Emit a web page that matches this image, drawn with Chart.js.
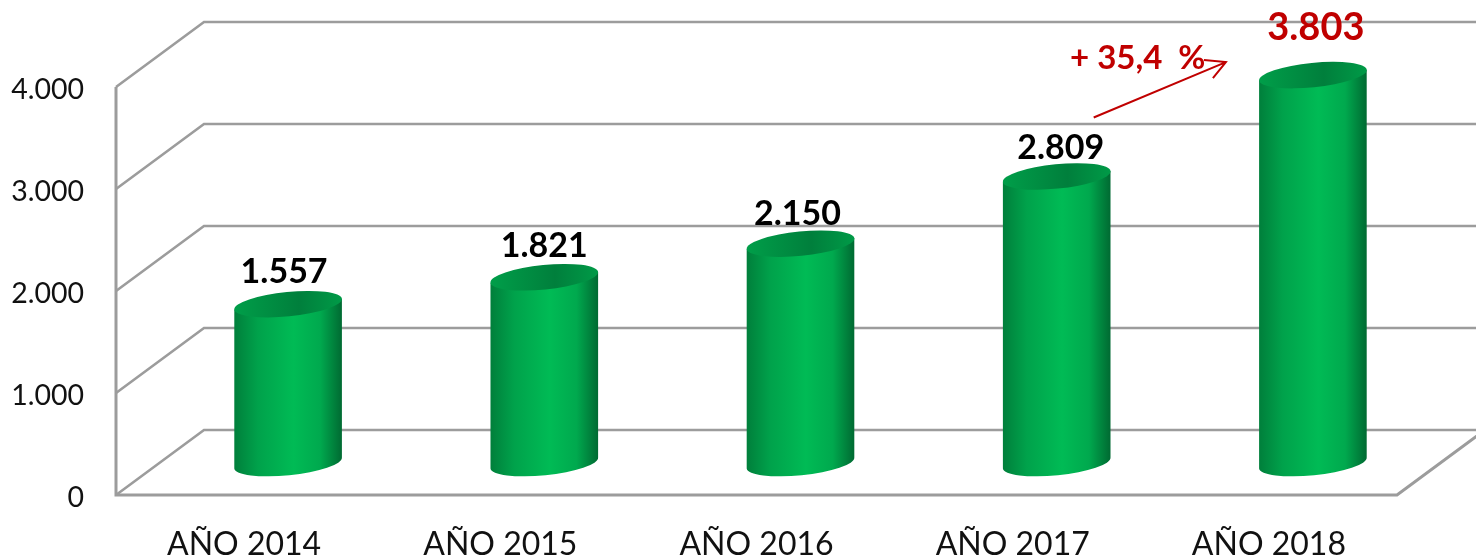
<!DOCTYPE html>
<html>
<head>
<meta charset="utf-8">
<style>html,body{margin:0;padding:0;background:#fff}#w{width:1476px;height:558px;position:relative}</style>
<script src="https://cdn.jsdelivr.net/npm/chart.js@4"></script>
</head>
<body>
<div id="w"><canvas id="c" width="1476" height="558"></canvas></div>
<script>
const categories = ['AÑO 2014','AÑO 2015','AÑO 2016','AÑO 2017','AÑO 2018'];
const values = [1557, 1821, 2150, 2809, 3803];
const valueLabels = ['1.557','1.821','2.150','2.809','3.803'];
const yTicks = [0, 1000, 2000, 3000, 4000];
const yTickLabels = ['0','1.000','2.000','3.000','4.000'];
const changeLabel = '+ 35,4  %';

const DEPTH = {x: 88, y: 65};      // floor depth of the 3D box
const OFFSET = {x: 44, y: -32};    // bars stand mid-way along the floor
const GRID = '#9c9c9c';
const FONT = 'Lato, Carlito, sans-serif';
const RX_TILT = -0.1;

function hGrad(ctx, x0, x1, stops){
  const g = ctx.createLinearGradient(x0, 0, x1, 0);
  stops.forEach(s => g.addColorStop(s[0], s[1]));
  return g;
}

class CylinderElement extends Chart.BarElement {
  draw(ctx){
    const p = this.getProps(['x','y','base','width']);
    const cx = p.x + OFFSET.x, rx = p.width / 2, ry = 12.2;
    const top = p.y + OFFSET.y, bot = p.base + OFFSET.y;
    const dy = Math.tan(-RX_TILT) * rx;
    const l = cx - rx, r = cx + rx;
    ctx.save();
    ctx.beginPath();
    ctx.moveTo(l, top + dy);
    ctx.lineTo(l, bot + dy);
    ctx.ellipse(cx, bot, rx / Math.cos(RX_TILT), ry, RX_TILT, Math.PI, 0, true);
    ctx.lineTo(r, top - dy);
    ctx.closePath();
    ctx.fillStyle = hGrad(ctx, l, r, [[0,'#007f3b'],[0.22,'#00a24b'],[0.55,'#00bb55'],[0.8,'#00a94e'],[1,'#006a32']]);
    ctx.fill();
    ctx.beginPath();
    ctx.ellipse(cx, top, rx / Math.cos(RX_TILT), ry, RX_TILT, 0, Math.PI * 2);
    ctx.fillStyle = hGrad(ctx, l, r, [[0,'#009e49'],[0.6,'#007f3c'],[1,'#009a47']]);
    ctx.fill();
    ctx.restore();
  }
}
CylinderElement.id = 'cylinder';
CylinderElement.defaults = Chart.BarElement.defaults;

class CylinderController extends Chart.BarController {}
CylinderController.id = 'cylinderBar';
CylinderController.defaults = {dataElementType: 'cylinder'};
Chart.register(CylinderElement, CylinderController);

const box3d = {
  id: 'box3d',
  beforeDatasetsDraw(chart){
    const {ctx, scales:{y}, chartArea:a} = chart;
    ctx.save();
    ctx.strokeStyle = GRID;
    ctx.lineWidth = 2.6;
    ctx.lineJoin = 'miter';
    yTicks.forEach(v => {
      const py = y.getPixelForValue(v);
      ctx.beginPath();
      ctx.moveTo(a.left, py);
      ctx.lineTo(a.left + DEPTH.x, py - DEPTH.y);
      ctx.lineTo(1480, py - DEPTH.y);
      ctx.stroke();
    });
    const y0 = y.getPixelForValue(0), y4 = y.getPixelForValue(4000);
    ctx.lineWidth = 3;
    ctx.beginPath();
    ctx.moveTo(a.left, y4);
    ctx.lineTo(a.left, y0);
    ctx.lineTo(a.right, y0);
    ctx.lineTo(a.right + DEPTH.x, y0 - DEPTH.y);
    ctx.stroke();
    ctx.restore();
  },
  afterDatasetsDraw(chart){
    const {ctx} = chart;
    const bars = chart.getDatasetMeta(0).data;
    const shift = [[-4,-32],[0,-31],[-3,-30],[4,-28],[3,-47]];
    ctx.save();
    ctx.textAlign = 'center';
    ctx.textBaseline = 'middle';
    bars.forEach((b, i) => {
      const last = i === bars.length - 1;
      ctx.font = (last ? '700 38px ' : '700 34px ') + FONT;
      ctx.fillStyle = last ? '#c00000' : '#000';
      ctx.fillText(valueLabels[i], b.x + OFFSET.x + shift[i][0], b.y + OFFSET.y + shift[i][1]);
    });
    const a = bars[3], c = bars[4];
    const ax = a.x + OFFSET.x + 37, ay = a.y + OFFSET.y - 59;
    const bx = c.x + OFFSET.x - 87, by = c.y + OFFSET.y - 13;
    ctx.strokeStyle = '#c00000';
    ctx.lineWidth = 2;
    ctx.beginPath();
    ctx.moveTo(ax, ay); ctx.lineTo(bx, by);
    ctx.moveTo(bx - 22, by - 2); ctx.lineTo(bx, by); ctx.lineTo(bx - 13, by + 16);
    ctx.stroke();
    ctx.font = '700 33px ' + FONT;
    ctx.fillStyle = '#c00000';
    ctx.textAlign = 'left';
    ctx.fillText(changeLabel, 1070, 58);
    ctx.restore();
  }
};

new Chart(document.getElementById('c'), {
  type: 'cylinderBar',
  data: {
    labels: categories,
    datasets: [{
      data: values,
      clip: false,
      barPercentage: 0.42,
      categoryPercentage: 1,
      backgroundColor: '#00b050'
    }]
  },
  options: {
    responsive: false,
    animation: false,
    layout: {padding: {left: 0, right: 79, top: 87, bottom: 0}},
    plugins: {legend: {display: false}, title: {display: false}, tooltip: {enabled: false}},
    scales: {
      x: {
        type: 'category',
        offset: true,
        afterFit(s){ s.height = 63; },
        grid: {display: false, drawTicks: false},
        border: {display: false},
        ticks: {padding: 30, color: '#111', font: {family: FONT, size: 32}, maxRotation: 0}
      },
      y: {
        type: 'linear',
        min: 0, max: 4000,
        afterFit(s){ s.width = 116; },
        afterBuildTicks(s){ s.ticks = yTicks.map(v => ({value: v})); },
        afterUpdate(s){
          if (s._nudged) return;
          s._nudged = true;
          const orig = s.drawLabels;
          s.drawLabels = function(area){
            this.ctx.save();
            this.ctx.translate(0, 3);
            orig.call(this, area);
            this.ctx.restore();
          };
        },
        grid: {display: false, drawTicks: false},
        border: {display: false},
        ticks: {
          padding: 32, color: '#111', font: {family: FONT, size: 28.5},
          callback(v){ return yTickLabels[yTicks.indexOf(v)]; }
        }
      }
    }
  },
  plugins: [box3d]
});
</script>
</body>
</html>
